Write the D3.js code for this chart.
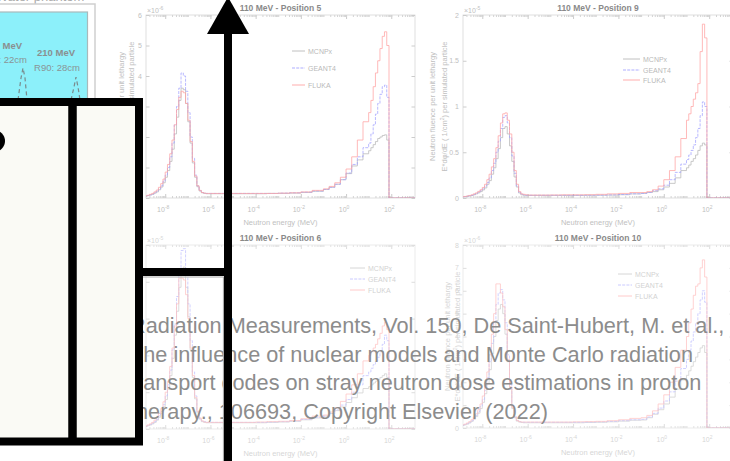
<!DOCTYPE html>
<html>
<head>
<meta charset="utf-8">
<script src="https://cdnjs.cloudflare.com/ajax/libs/d3/7.8.5/d3.min.js"></script>
<style>
  body { margin: 0; background: #fff; }
  svg { display: block; font-family: "Liberation Sans", Arial, sans-serif; }
</style>
</head>
<body>
<div id="chart"></div>
<script>
// ---------------------------------------------------------------
// data: neutron spectra, bin edges in log10(E / MeV)
var bin_edges = [-9.0,-8.9,-8.8,-8.7,-8.6,-8.5,-8.4,-8.3,-8.2,-8.1,-8.0,-7.9,-7.8,-7.7,-7.6,-7.5,-7.4,-7.3,-7.2,-7.1,-7.0,-6.9,-6.8,-6.7,-6.6,-6.5,-6.4,-6.3,-6.2,-6.1,-6.0,
    -5.5,-5.0,-4.5,-4.0,-3.5,-3.0,-2.5,-2.0,-1.5,-1.0,
    -0.75,-0.5,-0.25,0,0.25,0.5,0.75,1.0,
    1.1,1.2,1.3,1.4,1.5,1.6,1.7,1.8,1.9,2.0,2.1,
    3.1];

var code_names = ["MCNPx", "GEANT4", "FLUKA"];
var panel_titles = ["110 MeV - Position 5", "110 MeV - Position 9", "110 MeV - Position 6", "110 MeV - Position 10"];
var x_tick_exps = [-8, -6, -4, -2, 0, 2];

// Position 5 (x1e-6)
var pos5_mcnpx = [0.05,0.06,0.08,0.1,0.12,0.16,0.2,0.27,0.36,0.5,0.68,0.9,1.2,1.6,2.1,2.65,3.2,3.6,3.55,3.1,2.5,1.8,1.15,0.68,0.37,0.23,0.17,0.15,0.14,0.14,
    0.14,0.14,0.14,0.14,0.14,0.15,0.15,0.16,0.18,0.22, 0.28,0.35,0.45,0.6,0.8,1.05,1.25,1.45, 1.55,1.65,1.75,1.85,1.95,2.0,2.05,2.07,1.9,0,0, 0];
var pos5_geant4 = [0.05,0.06,0.08,0.1,0.13,0.17,0.22,0.3,0.4,0.55,0.75,1.0,1.35,1.8,2.4,3.0,3.6,4.1,4.0,3.5,2.8,2.0,1.3,0.75,0.4,0.24,0.18,0.16,0.15,0.15,
    0.15,0.15,0.15,0.15,0.15,0.15,0.16,0.17,0.19,0.23, 0.28,0.35,0.45,0.6,0.82,1.1,1.35,1.65, 1.8,2.1,2.4,2.75,3.1,3.4,3.65,3.7,3.3,0,0, 0];
var pos5_fluka = [0.06,0.07,0.09,0.12,0.15,0.2,0.26,0.35,0.47,0.62,0.85,1.1,1.45,1.9,2.4,2.9,3.3,3.5,3.45,3.1,2.55,1.85,1.2,0.72,0.4,0.25,0.18,0.16,0.15,0.15,
    0.15,0.15,0.15,0.15,0.15,0.15,0.16,0.17,0.2,0.25, 0.3,0.38,0.5,0.68,0.95,1.35,1.9,2.5, 2.8,3.2,3.65,4.1,4.5,4.9,5.3,5.45,5.0,0,0, 0];

// Position 9 (x1e-5)
var pos9_mcnpx = [0.01,0.012,0.014,0.018,0.022,0.027,0.035,0.045,0.057,0.07,0.088,0.11,0.15,0.19,0.26,0.33,0.43,0.54,0.66,0.76,0.78,0.7,0.57,0.4,0.23,0.12,0.055,0.035,0.03,0.028,
    0.028,0.028,0.028,0.028,0.028,0.03,0.03,0.032,0.036,0.045, 0.05,0.06,0.07,0.09,0.12,0.16,0.22,0.3, 0.33,0.36,0.4,0.43,0.47,0.52,0.57,0.6,0.58,0,0, 0];
var pos9_geant4 = [0.01,0.012,0.015,0.02,0.025,0.03,0.04,0.05,0.065,0.08,0.1,0.13,0.17,0.22,0.3,0.38,0.5,0.62,0.76,0.88,0.9,0.82,0.66,0.46,0.27,0.13,0.06,0.04,0.035,0.03,
    0.03,0.03,0.03,0.03,0.03,0.03,0.032,0.034,0.038,0.046, 0.05,0.06,0.08,0.1,0.14,0.2,0.28,0.37, 0.42,0.47,0.52,0.58,0.66,0.76,0.9,1.05,1.0,0,0, 0];
var pos9_fluka = [0.012,0.014,0.017,0.022,0.028,0.034,0.045,0.056,0.072,0.09,0.115,0.15,0.2,0.26,0.34,0.43,0.55,0.68,0.82,0.92,0.93,0.85,0.7,0.5,0.3,0.15,0.07,0.045,0.04,0.035,
    0.032,0.032,0.033,0.035,0.035,0.036,0.04,0.045,0.05,0.06, 0.06,0.07,0.09,0.13,0.2,0.3,0.45,0.65, 0.85,0.92,1.0,1.08,1.15,1.25,1.6,1.9,1.75,0,0, 0];

// Position 6 (x1e-5)
var pos6_mcnpx = [0.06,0.07,0.09,0.11,0.14,0.18,0.24,0.32,0.43,0.6,0.8,1.08,1.45,1.92,2.55,3.2,3.85,4.3,4.4,3.85,3.05,2.15,1.4,0.82,0.44,0.27,0.2,0.18,0.17,0.17,
    0.17,0.17,0.17,0.17,0.17,0.18,0.19,0.21,0.25,0.3, 0.35,0.42,0.5,0.6,0.72,0.85,0.98,1.1, 1.15,1.2,1.25,1.3,1.35,1.4,1.45,1.5,1.4,0,0, 0];
var pos6_geant4 = [0.06,0.07,0.1,0.12,0.16,0.2,0.26,0.36,0.48,0.66,0.9,1.2,1.6,2.15,2.85,3.6,4.3,4.85,4.9,4.3,3.4,2.4,1.55,0.9,0.48,0.29,0.22,0.2,0.18,0.18,
    0.18,0.18,0.18,0.18,0.18,0.19,0.2,0.22,0.26,0.32, 0.35,0.42,0.52,0.65,0.8,1.0,1.2,1.45, 1.55,1.65,1.75,1.85,1.95,2.1,2.3,2.55,2.4,0,0, 0];
var pos6_fluka = [0.07,0.08,0.11,0.14,0.18,0.24,0.31,0.42,0.56,0.74,1.0,1.3,1.7,2.2,2.8,3.4,4.1,4.1,4.05,3.65,3.0,2.2,1.45,0.86,0.48,0.3,0.22,0.19,0.18,0.18,
    0.18,0.18,0.18,0.18,0.19,0.2,0.21,0.23,0.28,0.35, 0.38,0.46,0.58,0.75,0.95,1.2,1.5,1.85, 2.0,2.1,2.2,2.3,2.45,2.6,2.8,2.9,2.7,0,0, 0];

// Position 10 (x1e-6)
var pos10_mcnpx = [0.1,0.11,0.14,0.17,0.22,0.29,0.38,0.5,0.65,0.85,1.12,1.5,1.95,2.55,3.25,4.0,4.7,5.2,5.4,5.0,4.1,2.9,1.7,0.85,0.45,0.3,0.26,0.24,0.23,0.23,
    0.23,0.23,0.23,0.23,0.23,0.24,0.25,0.27,0.3,0.34, 0.35,0.45,0.6,0.8,1.05,1.35,1.7,2.1, 2.3,2.5,2.7,2.9,3.1,3.3,3.5,3.6,3.3,0,0, 0];
var pos10_geant4 = [0.1,0.12,0.15,0.19,0.25,0.32,0.42,0.55,0.72,0.95,1.25,1.65,2.2,2.9,3.7,4.6,5.4,5.9,6.05,5.6,4.6,3.2,1.9,0.95,0.5,0.33,0.28,0.26,0.25,0.25,
    0.25,0.25,0.25,0.25,0.25,0.26,0.27,0.29,0.32,0.36, 0.38,0.48,0.64,0.87,1.18,1.58,2.05,2.6, 3.0,3.4,3.8,4.2,4.6,5.0,5.6,6.0,5.5,0,0, 0];
var pos10_fluka = [0.12,0.14,0.17,0.22,0.28,0.36,0.47,0.62,0.8,1.05,1.4,1.85,2.45,3.2,4.1,5.0,6.3,6.3,5.9,5.3,4.3,3.0,1.8,0.9,0.48,0.33,0.28,0.26,0.26,0.26,
    0.26,0.26,0.26,0.26,0.27,0.28,0.29,0.32,0.36,0.42, 0.45,0.55,0.75,1.05,1.45,2.0,2.65,3.4, 4.0,4.6,5.2,5.8,6.2,6.3,7.0,7.35,6.6,0,0, 0];

// y ticks and exponent of each panel
var pos5_y_ticks = [0, 1, 2, 3, 4, 5, 6];
var pos9_y_ticks = [0, 0.5, 1, 1.5, 2];
var pos6_y_ticks = [0, 1, 2, 3, 4, 5];
var pos10_y_ticks = [0, 1, 2, 3, 4, 5, 6, 7, 8];
var y_exps = ["-6", "-5", "-5", "-6"];

// inset (beam energies and R90 ranges)
var inset_energies = ["160 MeV", "210 MeV"];
var inset_r90 = [22, 28];
var inset_peak = [1.0, 0.7];

var citation_lines = [
    "Radiation Measurements, Vol. 150, De Saint-Hubert, M. et al.,",
    "The influence of nuclear models and Monte Carlo radiation",
    "transport codes on stray neutron dose estimations in proton",
    "therapy., 106693, Copyright Elsevier (2022)"
];

// ---------------------------------------------------------------
var svg_width = 730;
var svg_height = 461;

var svg = d3.select("#chart")
    .append("svg")
    .attr("width", svg_width)
    .attr("height", svg_height);

var code_colors = ["#3c3c3c", "#0000ff", "#ff0000"];
var code_dash = [null, "3,1.2", null];
var x_log_domain = [-8.85, 3.05];

// inset with proton beams (top left, mostly hidden)
var inset = svg.append("g");
inset.append("text")
    .attr("x", -4).attr("y", 1)
    .attr("font-size", 13).attr("fill", "#aaa")
    .text("Water phantom");
inset.append("rect")
    .attr("x", -5).attr("y", 4).attr("width", 100).attr("height", 120)
    .attr("fill", "#fff").attr("stroke", "#cfcfcf").attr("stroke-width", 1.5);
inset.append("rect")
    .attr("x", -5).attr("y", 12).attr("width", 92.5).attr("height", 110)
    .attr("fill", "#8cf0fa").attr("stroke", "#a9b9bb").attr("stroke-width", 1.2);

var depth_scale = d3.scaleLinear().domain([22, 28]).range([23, 76]);
var peak_scale = d3.scaleLinear().domain([0, 1]).range([98, 68]);

inset_r90.forEach(function(r, i) {
    var cx = depth_scale(r);
    var pk = peak_scale(inset_peak[i]);
    inset.append("path")
        .attr("d", d3.line()([[cx - 5, 100], [cx - 2, pk + 10], [cx, pk], [cx + 2, pk + 10], [cx + 4, 100]]))
        .attr("fill", "none").attr("stroke", "#7a8a8c")
        .attr("stroke-width", 1.2).attr("stroke-dasharray", "4,3");
    inset.append("text")
        .attr("x", cx - 20).attr("y", 49 + i * 7)
        .attr("text-anchor", "middle").attr("font-size", 9.5)
        .attr("font-weight", "bold").attr("fill", "#8a8f90")
        .text(inset_energies[i]);
    inset.append("text")
        .attr("x", cx - 19).attr("y", 63 + i * 8)
        .attr("text-anchor", "middle").attr("font-size", 9.5)
        .attr("fill", "#8a9496")
        .text("R90: " + r + "cm");
});

// one faded panel of spectra
function drawPanel(n, title, y_ticks, y_exp, series, box, ylab_x, leg, fade) {
    var x_scale = d3.scaleLog()
        .domain([Math.pow(10, x_log_domain[0]), Math.pow(10, x_log_domain[1])])
        .range([box.left, box.right]);
    var y_scale = d3.scaleLinear()
        .domain([0, y_ticks[y_ticks.length - 1]])
        .range([box.bottom, box.top]);

    var g = svg.append("g").attr("opacity", fade);

    g.append("clipPath").attr("id", "clip" + n)
        .append("rect")
        .attr("x", box.left).attr("y", box.top - 1)
        .attr("width", box.right - box.left)
        .attr("height", box.bottom - box.top + 1);

    // frame
    g.append("rect")
        .attr("x", box.left).attr("y", box.top)
        .attr("width", box.right - box.left).attr("height", box.bottom - box.top)
        .attr("fill", "none").attr("stroke", "#999").attr("stroke-width", 0.7);

    var major = x_tick_exps.map(e => Math.pow(10, e));
    var minor = [];
    d3.range(-9, 3).forEach(function(e) {
        d3.range(2, 10).forEach(function(k) {
            var v = k * Math.pow(10, e);
            if (Math.log10(v) > x_log_domain[0] && Math.log10(v) < x_log_domain[1]) minor.push(v);
        });
    });
    d3.range(-8, 3).forEach(function(e) { minor.push(Math.pow(10, e)); });

    function noDomain(a) { a.select(".domain").remove(); }

    g.append("g").attr("transform", `translate(0, ${box.bottom})`).attr("color", "#888")
        .call(d3.axisBottom(x_scale).tickValues(major).tickSize(-4).tickFormat("")).call(noDomain);
    g.append("g").attr("transform", `translate(0, ${box.top})`).attr("color", "#888")
        .call(d3.axisTop(x_scale).tickValues(major).tickSize(-4).tickFormat("")).call(noDomain);
    g.append("g").attr("transform", `translate(0, ${box.bottom})`).attr("color", "#999")
        .call(d3.axisBottom(x_scale).tickValues(minor).tickSize(-2).tickFormat("")).call(noDomain);
    g.append("g").attr("transform", `translate(0, ${box.top})`).attr("color", "#999")
        .call(d3.axisTop(x_scale).tickValues(minor).tickSize(-2).tickFormat("")).call(noDomain);
    g.append("g").attr("transform", `translate(${box.left}, 0)`).attr("color", "#888")
        .call(d3.axisLeft(y_scale).tickValues(y_ticks).tickSize(-3.5).tickFormat("")).call(noDomain);
    g.append("g").attr("transform", `translate(${box.right}, 0)`).attr("color", "#888")
        .call(d3.axisRight(y_scale).tickValues(y_ticks).tickSize(-3.5).tickFormat("")).call(noDomain);

    // x tick labels 10^k
    x_tick_exps.forEach(function(e) {
        var t = g.append("text")
            .attr("x", x_scale(Math.pow(10, e)) - 2).attr("y", box.bottom + 14)
            .attr("text-anchor", "middle").attr("font-size", 7).attr("fill", "#666");
        t.append("tspan").text("10");
        t.append("tspan").attr("dy", -3.5).attr("font-size", 5).text(e);
    });

    // y tick labels
    y_ticks.forEach(function(v) {
        g.append("text")
            .attr("x", box.left - 4).attr("y", y_scale(v) + 2.5)
            .attr("text-anchor", "end").attr("font-size", 7).attr("fill", "#666")
            .text(v);
    });

    // x10^k
    var ex = g.append("text")
        .attr("x", box.left + 1).attr("y", box.top - 2)
        .attr("font-size", 7).attr("fill", "#666");
    ex.append("tspan").text("\u00d710");
    ex.append("tspan").attr("dy", -3).attr("font-size", 5).text(y_exp);

    // title and axis labels
    svg.append("text")
        .attr("x", (box.left + box.right) / 2).attr("y", box.top - 4)
        .attr("text-anchor", "middle").attr("font-size", 8.5)
        .attr("font-weight", "bold").attr("fill", "#8a8a8a")
        .text(title);

    g.append("text")
        .attr("x", (box.left + box.right) / 2).attr("y", box.bottom + 27)
        .attr("text-anchor", "middle").attr("font-size", 7.5).attr("fill", "#666")
        .text("Neutron energy (MeV)");

    var ymid = (box.top + box.bottom) / 2;
    g.append("text")
        .attr("transform", `translate(${ylab_x[0]}, ${ymid}) rotate(-90)`)
        .attr("dy", "0.35em").attr("text-anchor", "middle")
        .attr("font-size", 7.5).attr("fill", "#666")
        .text("Neutron fluence per unit lethargy");
    var yl = g.append("text")
        .attr("transform", `translate(${ylab_x[1]}, ${ymid}) rotate(-90)`)
        .attr("dy", "0.35em").attr("text-anchor", "middle")
        .attr("font-size", 7.5).attr("fill", "#666");
    yl.append("tspan").text("E*d\u03c6/dE ( 1/cm");
    yl.append("tspan").attr("dy", -3).attr("font-size", 5).text("2");
    yl.append("tspan").attr("dy", 3).text(") per simulated particle");

    // histograms
    var hist_line = d3.line()
        .x(d => x_scale(Math.pow(10, d[0])))
        .y(d => y_scale(d[1]))
        .curve(d3.curveStepAfter);

    var plot = g.append("g").attr("clip-path", `url(#clip${n})`).attr("opacity", 0.85);
    series.forEach(function(values, i) {
        var pts = values.map((v, j) => [bin_edges[j], v]);
        pts.push([bin_edges[values.length], values[values.length - 1]]);
        plot.append("path")
            .attr("d", hist_line(pts))
            .attr("fill", "none")
            .attr("stroke", code_colors[i])
            .attr("stroke-width", 0.75)
            .attr("stroke-dasharray", code_dash[i]);
    });

    // legend
    code_names.forEach(function(name, i) {
        g.append("line")
            .attr("x1", leg.x).attr("x2", leg.x + leg.w)
            .attr("y1", leg.y[i]).attr("y2", leg.y[i])
            .attr("stroke", code_colors[i]).attr("stroke-width", 0.75)
            .attr("stroke-dasharray", code_dash[i]);
        g.append("text")
            .attr("x", leg.x + leg.w + 3).attr("y", leg.y[i] + 2.5)
            .attr("font-size", 7).attr("fill", "#555")
            .text(name);
    });
}

drawPanel(5, panel_titles[0], pos5_y_ticks, y_exps[0], [pos5_mcnpx, pos5_geant4, pos5_fluka],
    { left: 146, right: 415, top: 15, bottom: 198 }, [121, 131], { x: 292, w: 13, y: [51, 68, 85] }, 0.42);
drawPanel(9, panel_titles[1], pos9_y_ticks, y_exps[1], [pos9_mcnpx, pos9_geant4, pos9_fluka],
    { left: 463, right: 733, top: 15, bottom: 198 }, [432, 444], { x: 623, w: 17, y: [59, 70, 80] }, 0.42);
drawPanel(6, panel_titles[2], pos6_y_ticks, y_exps[2], [pos6_mcnpx, pos6_geant4, pos6_fluka],
    { left: 146, right: 415, top: 245, bottom: 429 }, [121, 131], { x: 350, w: 15, y: [268, 279, 290] }, 0.27);
drawPanel(10, panel_titles[3], pos10_y_ticks, y_exps[3], [pos10_mcnpx, pos10_geant4, pos10_fluka],
    { left: 463, right: 733, top: 245, bottom: 428 }, [447, 457], { x: 618, w: 14, y: [274, 285, 296] }, 0.27);

// citation text
citation_lines.forEach(function(line, i) {
    svg.append("text")
        .attr("x", 130).attr("y", 333 + i * 28.5)
        .attr("font-size", 21.7).attr("fill", "#8c8c8c")
        .text(line);
});

// black overlay shapes
var overlay = svg.append("g");
overlay.append("rect")
    .attr("x", -10).attr("y", 102).attr("width", 149).attr("height", 339.5)
    .attr("fill", "#fafaf5").attr("stroke", "#000").attr("stroke-width", 8);
overlay.append("line")
    .attr("x1", 72.5).attr("x2", 72.5).attr("y1", 102).attr("y2", 441.5)
    .attr("stroke", "#000").attr("stroke-width", 8.5);
overlay.append("circle")
    .attr("cx", -6).attr("cy", 141).attr("r", 11).attr("fill", "#000");
overlay.append("line")
    .attr("x1", 143).attr("x2", 224).attr("y1", 277).attr("y2", 277)
    .attr("stroke", "#aaa").attr("stroke-width", 1.2);
overlay.append("line")
    .attr("x1", 223.5).attr("x2", 223.5).attr("y1", 277).attr("y2", 461)
    .attr("stroke", "#aaa").attr("stroke-width", 1.2);
overlay.append("line")
    .attr("x1", 139).attr("x2", 232).attr("y1", 272).attr("y2", 272)
    .attr("stroke", "#000").attr("stroke-width", 8);
overlay.append("line")
    .attr("x1", 228).attr("x2", 228).attr("y1", 30).attr("y2", 465)
    .attr("stroke", "#000").attr("stroke-width", 8);
overlay.append("path")
    .attr("d", "M228,-3 L249,34 L207,34 Z")
    .attr("fill", "#000");
</script>
</body>
</html>
